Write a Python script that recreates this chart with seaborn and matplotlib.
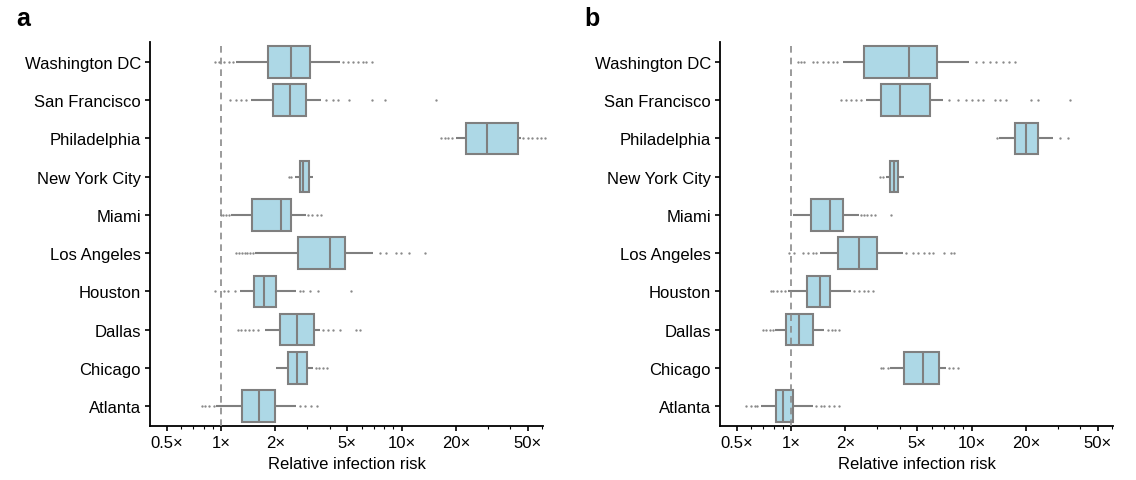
import numpy as np
import pandas as pd
import seaborn as sns
import matplotlib
matplotlib.use("Agg")
import matplotlib.pyplot as plt
from matplotlib.ticker import FixedLocator, FixedFormatter, LogLocator, NullFormatter

cities = ["Washington DC", "San Francisco", "Philadelphia", "New York City", "Miami",
          "Los Angeles", "Houston", "Dallas", "Chicago", "Atlanta"]

tick_values = [0.5, 1, 2, 5, 10, 20, 50]
tick_labels = ["0.5\u00d7", "1\u00d7", "2\u00d7", "5\u00d7", "10\u00d7", "20\u00d7", "50\u00d7"]

# ---- panel a: box statistics (whisker low, Q1, median, Q3, whisker high) ----
a_whislo = [1.21, 1.47, 20.1, 2.58, 1.14, 1.55, 1.27, 1.75, 2.02, 0.94]
a_q1     = [1.81, 1.93, 22.8, 2.75, 1.48, 2.66, 1.53, 2.13, 2.35, 1.30]
a_med    = [2.45, 2.42, 29.8, 2.86, 2.15, 4.02, 1.73, 2.63, 2.65, 1.62]
a_q3     = [3.09, 2.96, 44.0, 3.06, 2.45, 4.87, 2.01, 3.26, 3.00, 2.00]
a_whishi = [4.53, 3.59, 46.0, 3.22, 2.96, 6.93, 2.61, 3.51, 3.22, 2.61]
a_fliers = [
    [0.93, 0.98, 1.04, 1.11, 1.17, 4.72, 5.03, 5.37, 5.71, 6.09, 6.36, 6.83],
    [1.12, 1.21, 1.29, 1.38, 3.82, 4.16, 4.43, 5.14, 6.83, 8.12, 15.5],
    [16.6, 17.3, 18.0, 18.9, 47.0, 50.0, 53.0, 56.0, 59.0, 62.0],
    [2.39, 2.45],
    [1.00, 1.03, 1.07, 1.10, 3.05, 3.2, 3.4, 3.59],
    [1.21, 1.25, 1.30, 1.35, 1.40, 1.45, 1.50, 7.55, 8.2, 9.3, 9.9, 11.0, 13.4],
    [0.92, 1.04, 1.09, 1.20, 2.72, 2.84, 3.09, 3.43, 5.26],
    [1.24, 1.29, 1.35, 1.42, 1.50, 1.60, 3.66, 3.90, 4.16, 4.53, 5.60, 5.92],
    [3.36, 3.5, 3.65, 3.85],
    [0.78, 0.81, 0.86, 0.91, 2.72, 2.90, 3.15, 3.39],
]

# ---- panel b ----
b_whislo = [1.93, 2.60, 14.2, 3.36, 1.02, 1.44, 0.96, 0.81, 3.51, 0.68]
b_q1     = [2.52, 3.13, 17.3, 3.54, 1.29, 1.81, 1.22, 0.94, 4.21, 0.82]
b_med    = [4.48, 4.02, 19.9, 3.74, 1.64, 2.39, 1.44, 1.10, 5.36, 0.90]
b_q3     = [6.44, 5.87, 23.4, 3.92, 1.93, 3.00, 1.65, 1.32, 6.58, 1.03]
b_whishi = [9.73, 6.92, 28.2, 4.24, 2.39, 4.16, 2.15, 1.53, 7.22, 1.32]
b_fliers = [
    [1.09, 1.13, 1.18, 1.32, 1.40, 1.50, 1.60, 1.70, 1.80, 10.6, 11.5, 12.6, 13.7, 14.9, 16.2, 17.3],
    [1.88, 2.02, 2.15, 2.29, 2.44, 7.54, 8.38, 9.32, 10.1, 10.8, 11.5, 13.4, 14.3, 15.5, 21.4, 23.3, 35.3],
    [13.9, 30.7, 34.4],
    [3.09, 3.22],
    [2.45, 2.55, 2.65, 2.78, 2.90, 3.58],
    [0.98, 1.04, 1.16, 1.24, 1.32, 1.38, 4.34, 4.72, 5.03, 5.47, 5.84, 6.15, 7.01, 7.70, 8.04],
    [0.77, 0.79, 0.84, 0.88, 0.92, 2.24, 2.39, 2.55, 2.66, 2.84],
    [0.70, 0.73, 0.76, 0.79, 1.60, 1.68, 1.76, 1.84],
    [3.15, 3.25, 3.43, 7.54, 7.9, 8.36],
    [0.56, 0.60, 0.63, 0.65, 1.38, 1.47, 1.53, 1.63, 1.74, 1.84],
]

BOX_FILL = "#add8e6"
LINE = "#7f7f7f"

sns.set_style("ticks")
plt.rcParams.update({
    "font.family": ["Liberation Sans", "DejaVu Sans"],
    "text.color": "black",
    "axes.labelcolor": "black",
    "xtick.color": "black",
    "ytick.color": "black",
    "axes.edgecolor": "black",
})


def draw_panel(ax, whislo, q1, med, q3, whishi, fliers):
    core = pd.DataFrame({
        "city": np.repeat(cities, 5),
        "value": np.column_stack([whislo, q1, med, q3, whishi]).ravel(),
    })
    fl = pd.DataFrame({
        "city": [c for c, vals in zip(cities, fliers) for _ in vals],
        "value": [v for vals in fliers for v in vals],
    })
    sns.boxplot(data=core, x="value", y="city", order=cities, whis=(0, 100),
                showfliers=False, showcaps=False, log_scale=True, color=BOX_FILL,
                saturation=1, linecolor=LINE, linewidth=1.5, width=0.82, ax=ax)
    n_before = len(ax.collections)
    sns.stripplot(data=fl, x="value", y="city", order=cities, jitter=False,
                  size=1.7, marker="o", color="#8a8a8a", linewidth=0,
                  log_scale=True, ax=ax)
    for coll in ax.collections[n_before:]:
        coll.set_clip_on(False)
    ax.axvline(1, color="#8a8a8a", lw=1.2, ls=(0, (4, 3)), zorder=5)
    ax.set_xscale("log")
    ax.set_xlim(0.404, 60.7)
    ax.set_ylim(9.52, -0.52)
    ax.xaxis.set_major_locator(FixedLocator(tick_values))
    ax.xaxis.set_major_formatter(FixedFormatter(tick_labels))
    ax.xaxis.set_minor_locator(LogLocator(base=10, subs=np.arange(2, 10)))
    ax.xaxis.set_minor_formatter(NullFormatter())
    ax.set_xlabel("Relative infection risk", fontsize=12, labelpad=4)
    ax.set_ylabel("")
    ax.tick_params(axis="x", which="major", bottom=True, labelsize=12, length=3.5,
                   width=1.2, pad=3)
    ax.tick_params(axis="x", which="minor", bottom=True, length=2, width=0.8)
    ax.tick_params(axis="y", left=True, labelsize=12, length=3.5, width=1.2, pad=3)
    for s in ["top", "right"]:
        ax.spines[s].set_visible(False)
    for s in ["left", "bottom"]:
        ax.spines[s].set_linewidth(1.3)
        ax.spines[s].set_color("black")


fig = plt.figure(figsize=(11.36, 4.81), dpi=100)
ax_a = fig.add_axes([150 / 1136, 54 / 481, 393 / 1136, 384 / 481])
ax_b = fig.add_axes([720 / 1136, 54 / 481, 393 / 1136, 384 / 481])

draw_panel(ax_a, a_whislo, a_q1, a_med, a_q3, a_whishi, a_fliers)
draw_panel(ax_b, b_whislo, b_q1, b_med, b_q3, b_whishi, b_fliers)

fig.text(16 / 1136, 1 - 26 / 481, "a", fontsize=18, fontweight="bold", color="black")
fig.text(584 / 1136, 1 - 26 / 481, "b", fontsize=18, fontweight="bold", color="black")

fig.savefig("out.png", dpi=100)
